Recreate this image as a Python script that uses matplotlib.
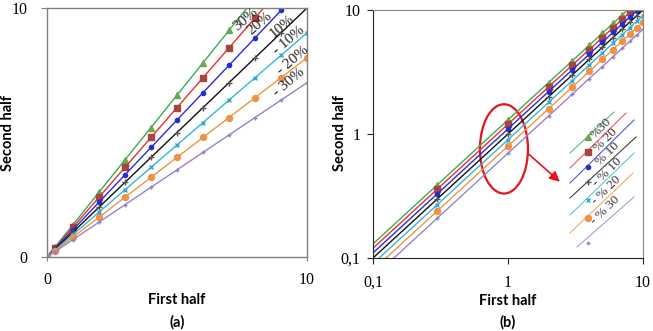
import numpy as np
import matplotlib
matplotlib.use("Agg")
import matplotlib.pyplot as plt
from matplotlib.patches import Ellipse
import matplotlib.transforms as mtransforms

# ---- data ----
first_half = [0, 0.3, 1, 2, 3, 4, 5, 6, 7, 8, 9, 10]
ratios = [1.3, 1.2, 1.1, 1.0, 0.9, 0.8, 0.7]
labels_a = ["30%", "20%", "10%", "- 10%", "- 20%", "- 30%"]
labels_b = ["%30", "% 20", "% 10", "- % 10", "- % 20", "- % 30"]
x_ticks_a = [0, 10]
x_ticks_b = [0.1, 1, 10]
tick_labels_b = ["0,1", "1", "10"]

line_colors = ["#3daa5c", "#e8312b", "#2a2ae0", "#111111", "#35b5dc", "#f0963c", "#9585c8"]
mk_colors = ["#6aa84f", "#a94540", "#1f2fd0", "#555555", "#35a5cc", "#ef9245", "#8f80c0"]
markers = ["^", "s", "o", "+", "x", "o", "+"]
msizes = [4.5, 4.2, 3.0, 4.0, 3.5, 4.3, 3.5]

W, H = 653, 331
fig = plt.figure(figsize=(W / 100, H / 100), dpi=100)

serif = "Liberation Serif"
sans = "Lato"

def px_axes(l, t, r, b):
    return fig.add_axes([l / W, 1 - b / H, (r - l) / W, (b - t) / H])

axA = px_axes(47, 8, 307, 257)
axB = px_axes(373, 10, 643, 258)

x = np.array(first_half, dtype=float)

# ---- panel (a) ----
for r, lc, mc, m, ms in zip(ratios, line_colors, mk_colors, markers, msizes):
    axA.plot(x, r * x, color=lc, lw=1.0, marker=m, ms=ms, mfc=mc, mec=mc, mew=1.0)
axA.set_xlim(0, 10)
axA.set_ylim(0, 10)
axA.set_xticks(x_ticks_a)
axA.set_yticks(x_ticks_a)
axA.set_xticklabels([str(v) for v in x_ticks_a], fontfamily=serif, fontsize=11.5)
axA.set_yticklabels([str(v) for v in x_ticks_a], fontfamily=serif, fontsize=11.5)
for s in axA.spines.values():
    s.set_color("#808080")
    s.set_linewidth(1.0)
axA.tick_params(axis="x", length=3, pad=8, color="#808080")
axA.tick_params(axis="y", length=4, pad=10, color="#808080")

label_pos_a = [(7.65, 9.55), (8.2, 9.4), (9.05, 9.25), (9.3, 8.7), (9.45, 7.9), (9.3, 7.0)]
for (lx, ly), t in zip(label_pos_a, labels_a):
    axA.text(lx, ly, t, rotation=40, ha="center", va="center", fontfamily=serif,
             fontsize=11, color="#222222", clip_on=False)

# ---- panel (b) ----
x_line = np.concatenate([[0.1], x[1:]])
for r, lc, mc, m, ms in zip(ratios, line_colors, mk_colors, markers, msizes):
    axB.plot(x_line, r * x_line, color=lc, lw=1.0, marker=m, ms=ms, mfc=mc, mec=mc,
             mew=1.0, markevery=list(range(1, len(x_line))))
axB.set_xscale("log")
axB.set_yscale("log")
axB.set_xlim(0.1, 10)
axB.set_ylim(0.1, 10)
axB.minorticks_off()
axB.set_xticks(x_ticks_b)
axB.set_yticks(x_ticks_b)
axB.set_xticklabels(tick_labels_b, fontfamily=serif, fontsize=11.5)
axB.set_yticklabels(tick_labels_b, fontfamily=serif, fontsize=11.5)
axB.tick_params(axis="x", length=4, pad=8, color="#222222")
axB.tick_params(axis="y", length=4, pad=5, color="#222222")
axB.spines["left"].set_color("#222222")
axB.spines["bottom"].set_color("#222222")
axB.spines["top"].set_color("#888888")
axB.spines["right"].set_color("#888888")

# red ellipse + arrow
ell = Ellipse((0.485, 0.44), 0.178, 0.36, transform=axB.transAxes, fill=False,
              ec="#e8141b", lw=1.6)
axB.add_patch(ell)
axB.annotate("", xy=(0.70, 0.30), xytext=(0.565, 0.43), xycoords="axes fraction",
             arrowprops=dict(arrowstyle="-|>,head_length=0.6,head_width=0.3",
                             color="#e8141b", lw=1.2))

# rotated legend in figure pixels
pxT = mtransforms.Affine2D().scale(1 / W, -1 / H).translate(0, 1) + fig.transFigure
leg_lines = [((570, 153), (614, 112)), ((570, 168), (626, 113)), ((570, 183), (634, 120)),
             ((570, 198), (636, 137)), ((570, 215), (634, 153)), ((570, 233), (633, 173)),
             ((577, 247), (634, 197))]
leg_marks = [(588, 137), (588, 152), (588, 167), (588, 182), (588, 200), (588, 218), (588, 243)]
leg_text = [(601, 128), (606, 140), (608, 154), (607, 172), (606, 190), (605, 210)]
for i, ((p0, p1), (mx, my)) in enumerate(zip(leg_lines, leg_marks)):
    fig.add_artist(plt.Line2D([p0[0], p1[0]], [p0[1], p1[1]], transform=pxT,
                              color=line_colors[i], lw=0.8, alpha=0.8))
    fig.add_artist(plt.Line2D([mx], [my], transform=pxT, marker=markers[i],
                              ms=msizes[i], mfc=mk_colors[i], mec=mk_colors[i],
                              mew=1.0, lw=0))
for (tx, ty), t in zip(leg_text, labels_b):
    fig.text(tx / W, 1 - ty / H, t, rotation=45, ha="center", va="center",
             fontfamily=serif, fontsize=9.5, color="#333333")

# axis labels
fig.text(177 / W, 1 - 300 / H, "First half", ha="center", va="center",
         fontfamily=sans, fontweight="bold", fontsize=10.5)
fig.text(177 / W, 1 - 322 / H, "(a)", ha="center", va="center",
         fontfamily=sans, fontweight="bold", fontsize=10.5)
fig.text(508 / W, 1 - 301 / H, "First half", ha="center", va="center",
         fontfamily=sans, fontweight="bold", fontsize=10.5)
fig.text(508 / W, 1 - 322 / H, "(b)", ha="center", va="center",
         fontfamily=sans, fontweight="bold", fontsize=10.5)
fig.text(8 / W, 1 - 133 / H, "Second half", ha="center", va="center", rotation=90,
         fontfamily=sans, fontweight="bold", fontsize=10.5)
fig.text(340 / W, 1 - 133 / H, "Second half", ha="center", va="center", rotation=90,
         fontfamily=sans, fontweight="bold", fontsize=10.5)

fig.savefig("out.png", dpi=100)
